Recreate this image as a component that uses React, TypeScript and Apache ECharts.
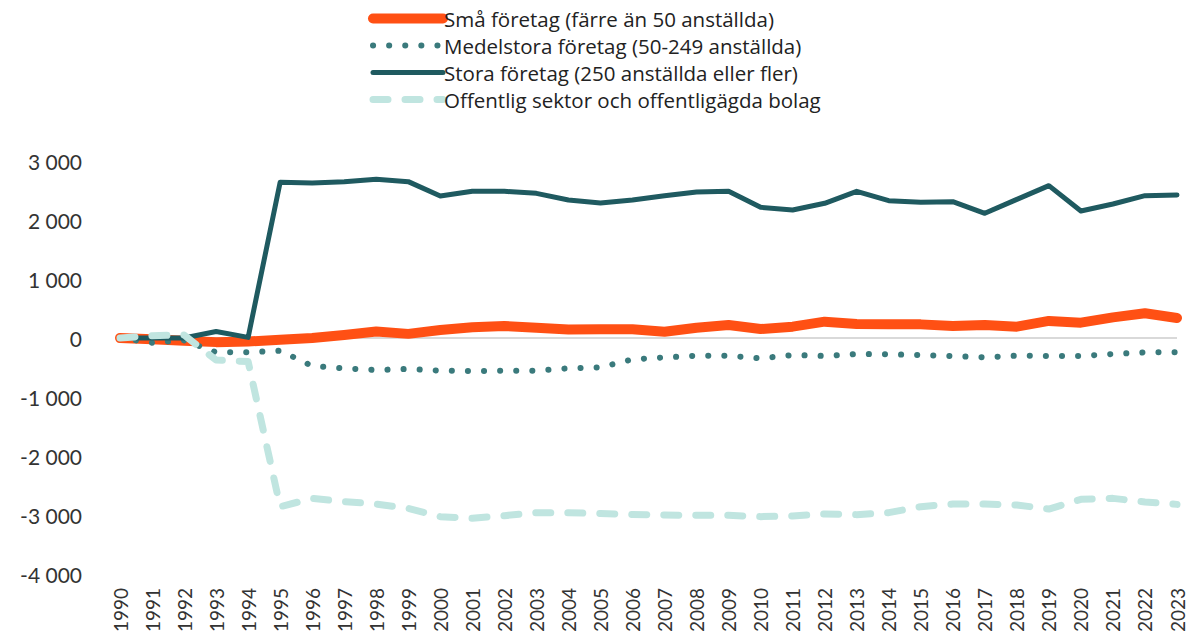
import React, { useEffect, useRef } from "react";
import * as echarts from "echarts";

const years = [
  "1990","1991","1992","1993","1994","1995","1996","1997","1998","1999",
  "2000","2001","2002","2003","2004","2005","2006","2007","2008","2009",
  "2010","2011","2012","2013","2014","2015","2016","2017","2018","2019",
  "2020","2021","2022","2023",
];

const smaForetag = [
  0, -20, -45, -70, -60, -30, 0, 50, 110, 70,
  136, 181, 203, 175, 145, 150, 147, 107, 175, 220,
  152, 192, 277, 237, 231, 231, 203, 220, 192, 290,
  260, 350, 420, 340,
];

const medelstora = [
  0, -80, -40, -243, -243, -215, -475, -514, -542, -525,
  -554, -560, -554, -554, -514, -497, -362, -328, -300, -300,
  -345, -288, -305, -271, -277, -288, -305, -328, -300, -305,
  -305, -271, -243, -243,
];

const stora = [
  0, 0, 0, 110, 10, 2640, 2627, 2650, 2690, 2650,
  2407, 2486, 2486, 2452, 2339, 2290, 2339, 2412, 2475, 2486,
  2215, 2169, 2283, 2486, 2328, 2300, 2311, 2113, 2350, 2582,
  2153, 2271, 2412, 2424,
];

const offentlig = [
  0, 40, 50, -373, -400, -2859, -2718, -2774, -2814, -2887,
  -3028, -3056, -3011, -2960, -2960, -2975, -2990, -3000, -3005, -3005,
  -3028, -3015, -2983, -2994, -2960, -2859, -2814, -2814, -2830, -2900,
  -2735, -2718, -2780, -2820,
];

const seriesNames = [
  "Små företag (färre än 50 anställda)",
  "Medelstora företag (50-249 anställda)",
  "Stora företag (250 anställda eller fler)",
  "Offentlig sektor och offentligägda bolag",
];

const FONT = "Lato, 'Open Sans', sans-serif";
const LEGEND_FONT = "'Open Sans', Lato, sans-serif";

function fmt(v: number): string {
  const s = String(Math.abs(v)).replace(/\B(?=(\d{3})+(?!\d))/g, " ");
  return (v < 0 ? "-" : "") + s;
}

export default function App() {
  const ref = useRef<HTMLDivElement>(null);
  useEffect(() => {
    if (!ref.current) return;
    const chart = echarts.init(ref.current, undefined, { renderer: "svg" });
    chart.setOption({
      animation: false,
      backgroundColor: "#ffffff",
      legend: {
        orient: "vertical",
        left: 363,
        top: 1,
        itemWidth: 70,
        itemHeight: 14,
        itemGap: 2,
        itemStyle: { opacity: 0 },
        lineStyle: { width: "inherit", cap: "round" },
        textStyle: { fontFamily: LEGEND_FONT, fontSize: 20.5, color: "#222222", lineHeight: 25, padding: [0, 0, 0, -4] },
        data: seriesNames,
      },
      grid: { left: 120, right: 10, top: 161, bottom: 67, containLabel: false },
      xAxis: {
        type: "category",
        data: years,
        boundaryGap: false,
        axisLine: { show: false },
        axisTick: { show: false },
        axisLabel: {
          rotate: 90,
          interval: 0,
          margin: 14,
          fontFamily: FONT,
          fontSize: 19,
          color: "#333333",
        },
        splitLine: { show: false },
      },
      yAxis: {
        type: "value",
        min: -4000,
        max: 3000,
        interval: 1000,
        axisLine: { show: false },
        axisTick: { show: false },
        splitLine: { show: false },
        axisLabel: {
          margin: 38,
          fontFamily: FONT,
          fontSize: 21,
          color: "#333333",
          formatter: (v: number) => fmt(v),
        },
      },
      series: [
        {
          name: seriesNames[0],
          type: "line",
          data: smaForetag,
          symbol: "none",
          lineStyle: { color: "#FF5014", width: 10, cap: "round", join: "round" },
          itemStyle: { color: "#FF5014" },
          markLine: {
            silent: true,
            symbol: "none",
            label: { show: false },
            lineStyle: { color: "#d9d9d9", width: 2, type: "solid" },
            data: [{ yAxis: 0 }],
            z: 0,
          },
          z: 2,
        },
        {
          name: seriesNames[1],
          type: "line",
          data: medelstora,
          symbol: "none",
          lineStyle: { color: "#3A7A7C", width: 6, type: [0.1, 16], cap: "round", join: "round" },
          itemStyle: { color: "#3A7A7C" },
          z: 3,
        },
        {
          name: seriesNames[2],
          type: "line",
          data: stora,
          symbol: "none",
          lineStyle: { color: "#1F5A60", width: 5, cap: "round", join: "round" },
          itemStyle: { color: "#1F5A60" },
          z: 4,
        },
        {
          name: seriesNames[3],
          type: "line",
          data: offentlig,
          symbol: "none",
          lineStyle: { color: "#C0E5E0", width: 7, type: [15, 17], cap: "round", join: "round" },
          itemStyle: { color: "#C0E5E0" },
          z: 5,
        },
      ],
    });
    return () => chart.dispose();
  }, []);
  return (
    <div
      ref={ref}
      style={{ position: "fixed", left: 0, top: 0, width: 1187, height: 641 }}
    />
  );
}
